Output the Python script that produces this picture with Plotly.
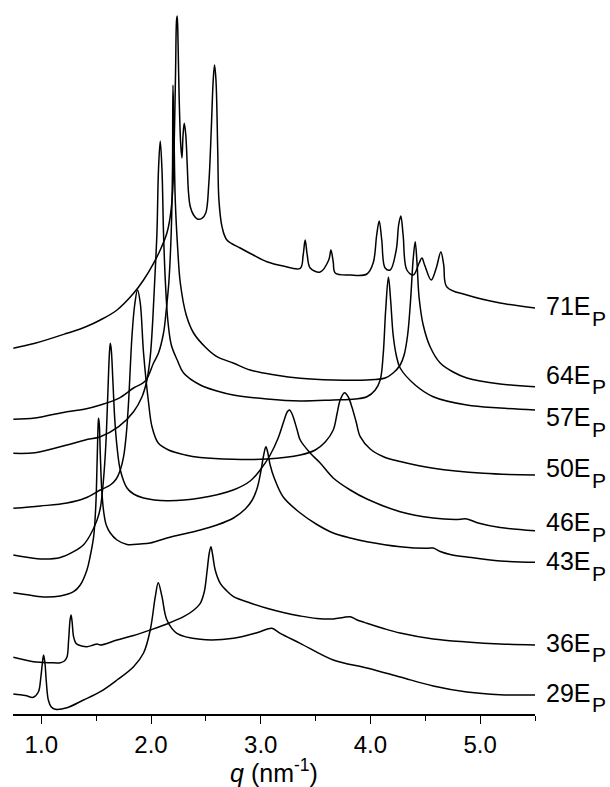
import plotly.graph_objects as go

# q values (nm^-1) and stacked intensities (arbitrary units, offset curves)
q_29 = [0.745, 0.854, 0.927, 0.973, 0.995, 1.009, 1.021, 1.034, 1.046, 1.064, 1.091, 1.128, 1.234, 1.385,
        1.538, 1.690, 1.841, 1.932, 1.993, 2.039, 2.066, 2.100, 2.145, 2.236, 2.449, 2.752, 2.965, 3.056,
        3.102, 3.178, 3.360, 3.661, 3.968, 4.271, 4.572, 4.879, 5.182, 5.5]
i_29 = [20, 18.5, 16.7, 22, 36, 50, 59, 50, 32, 14, 7, 4.7, 6.3, 14,
        22.3, 34, 47.3, 61, 84, 117.3, 131.3, 117.3, 94, 80.7, 74.7, 75.7, 81.3, 84.7,
        85.7, 80.7, 70.7, 54, 46, 37, 28, 22, 19.3, 19]

q_36 = [0.745, 0.927, 1.082, 1.173, 1.210, 1.234, 1.249, 1.262, 1.271, 1.281, 1.294, 1.314, 1.340, 1.416,
        1.474, 1.508, 1.538, 1.690, 1.841, 1.993, 2.145, 2.297, 2.385, 2.449, 2.485, 2.510, 2.531, 2.546,
        2.562, 2.585, 2.631, 2.692, 2.752, 2.904, 3.056, 3.205, 3.360, 3.512, 3.661, 3.752, 3.816, 3.870,
        3.968, 4.119, 4.271, 4.572, 4.879, 5.182, 5.5]
i_36 = [56.7, 52.3, 51.3, 51.3, 53, 57, 74, 94, 99, 92, 77.3, 71, 69, 67.3,
        69, 70, 69, 74, 78.5, 84, 90, 97.3, 103.5, 110.7, 122, 142, 161, 167.3,
        159, 144, 130.7, 123, 117.3, 111, 105.7, 101.5, 98, 95.5, 95, 96.5, 97.3, 94.5,
        90.7, 85.5, 81, 75, 72, 70, 69]

q_43 = [0.745, 0.854, 1.021, 1.173, 1.294, 1.355, 1.416, 1.446, 1.477, 1.497, 1.509, 1.518, 1.522, 1.529,
        1.538, 1.551, 1.569, 1.592, 1.629, 1.690, 1.781, 1.902, 1.993, 2.145, 2.297, 2.449, 2.601, 2.752,
        2.859, 2.923, 2.968, 3.000, 3.027, 3.047, 3.063, 3.086, 3.123, 3.205, 3.360, 3.512, 3.661, 3.816,
        3.968, 4.271, 4.514, 4.572, 4.636, 4.727, 4.879, 5.182, 5.5]
i_43 = [121.3, 119.5, 117, 118, 122.3, 129, 144, 158, 177.3, 209, 254, 289, 295.7, 289,
        259, 224, 202, 189, 181, 174, 169.5, 170, 171, 176, 180, 184, 189, 196,
        205, 214, 226, 242, 259, 267.3, 262, 249, 236, 217, 201, 189.5, 181, 176,
        172.3, 167.3, 165.7, 166, 162.5, 159.5, 157, 153, 151.7]

q_46 = [0.745, 0.854, 1.021, 1.173, 1.294, 1.383, 1.446, 1.508, 1.538, 1.565, 1.588, 1.606, 1.620, 1.629,
        1.638, 1.652, 1.670, 1.690, 1.720, 1.781, 1.841, 1.932, 2.145, 2.449, 2.749, 2.904, 2.995, 3.086,
        3.159, 3.214, 3.241, 3.262, 3.282, 3.305, 3.332, 3.360, 3.451, 3.542, 3.661, 3.816, 3.968, 4.271,
        4.572, 4.772, 4.879, 4.982, 5.182, 5.5]
i_46 = [159, 157, 155, 156.5, 162.3, 169, 179, 194, 206, 232, 269, 319, 359, 370.7,
        364, 334, 294, 267.3, 244, 226, 220, 216, 213.3, 216, 224, 233, 244, 259,
        276, 294, 302, 304, 301, 294, 284, 274, 261, 251, 236, 224, 215, 202.3,
        196, 194.5, 195, 191, 186.5, 183.3]

q_50 = [0.745, 0.991, 1.234, 1.401, 1.538, 1.629, 1.683, 1.720, 1.750, 1.774, 1.795, 1.826, 1.851, 1.877,
        1.902, 1.932, 1.978, 2.009, 2.066, 2.160, 2.312, 2.449, 2.749, 3.056, 3.360, 3.497, 3.588, 3.661,
        3.697, 3.724, 3.764, 3.798, 3.831, 3.870, 3.907, 3.998, 4.119, 4.271, 4.574, 5.030, 5.5]
i_50 = [205.7, 208, 211, 216, 224, 229, 235, 244, 257.3, 279, 311, 377.3, 409, 424,
        411, 361, 311, 287.3, 271, 264, 259, 256.5, 254.7, 255, 259, 264, 272, 284,
        301, 314, 321.3, 317, 307, 292, 277.3, 265, 257.3, 252.5, 245.7, 240.7, 239]

q_57 = [0.745, 0.943, 1.234, 1.401, 1.538, 1.705, 1.841, 1.918, 1.963, 1.993, 2.016, 2.034, 2.054, 2.068,
        2.084, 2.100, 2.114, 2.130, 2.153, 2.185, 2.239, 2.297, 2.449, 2.601, 2.749, 3.056, 3.360, 3.661,
        3.861, 3.968, 4.044, 4.089, 4.116, 4.139, 4.164, 4.184, 4.207, 4.235, 4.271, 4.408, 4.572, 4.879,
        5.182, 5.5]
i_57 = [260.7, 261.3, 269, 274, 277.3, 287.3, 302.3, 317.3, 334, 357.3, 394, 434, 481, 544,
        573, 544, 481, 434, 394, 369, 354, 341, 329, 323, 319, 315, 313, 314,
        315, 317.3, 324, 334, 359, 404, 437, 414, 379, 359, 346, 329, 317.3, 309,
        306, 304]

q_64 = [0.745, 0.943, 1.234, 1.401, 1.538, 1.705, 1.841, 1.948, 2.023, 2.068, 2.114, 2.139, 2.162, 2.184,
        2.196, 2.200, 2.209, 2.221, 2.244, 2.267, 2.321, 2.388, 2.494, 2.601, 2.749, 2.904, 3.132, 3.360,
        3.661, 3.968, 4.134, 4.207, 4.271, 4.307, 4.339, 4.366, 4.389, 4.408, 4.424, 4.444, 4.481, 4.545,
        4.636, 4.754, 4.879, 5.182, 5.5]
i_64 = [294.7, 296, 302.3, 305, 309, 315.7, 326, 333, 351, 361, 381, 404, 431, 481,
        547, 629, 584, 514, 464, 431, 399, 381, 367, 357.3, 351, 344, 339, 335.7,
        334, 334, 336, 341, 349, 359, 379, 414, 454, 472.3, 452, 416, 389, 367,
        351, 342, 336, 330, 327.3]

q_71 = [0.745, 0.943, 1.234, 1.401, 1.538, 1.690, 1.841, 1.932, 2.023, 2.084, 2.145, 2.175, 2.198, 2.212,
        2.224, 2.233, 2.239, 2.246, 2.257, 2.271, 2.282, 2.292, 2.303, 2.317, 2.330, 2.342, 2.358, 2.388,
        2.422, 2.464, 2.499, 2.526, 2.549, 2.567, 2.579, 2.592, 2.608, 2.619, 2.647, 2.692, 2.813, 2.932,
        3.056, 3.205, 3.360, 3.387, 3.405, 3.424, 3.451, 3.542, 3.620, 3.640, 3.661, 3.679, 3.816, 3.968,
        4.025, 4.057, 4.080, 4.103, 4.134, 4.180, 4.235, 4.257, 4.277, 4.298, 4.332, 4.392, 4.444, 4.469,
        4.494, 4.554, 4.600, 4.642, 4.668, 4.697, 4.879, 5.182, 5.5]
i_71 = [365.7, 370.7, 380.7, 387, 394, 404, 420.7, 434, 450.7, 464, 481, 497.3, 524, 574,
        644, 694, 698, 674, 614, 569, 556, 579, 590.7, 579, 549, 521, 507.3, 499,
        495, 495.7, 501, 529, 584, 634, 649, 634, 564, 514, 487.3, 474, 466, 459,
        452.3, 448, 445.7, 459, 474, 459, 446, 442, 454, 464, 452, 441, 439, 440,
        451, 479, 493, 474, 446, 444, 464, 489, 498, 479, 444, 439, 451, 456,
        449, 434, 446, 462, 449, 427, 419, 411, 406]

series_names = ["29", "36", "43", "46", "50", "57", "64", "71"]
series_q = [q_29, q_36, q_43, q_46, q_50, q_57, q_64, q_71]
series_i = [i_29, i_36, i_43, i_46, i_50, i_57, i_64, i_71]
# label vertical offsets relative to curve end (style)
label_dy = [2.5, 2.5, 1, 8.5, 7, -7.3, 12, 2]

x_ticks = [1.0, 2.0, 3.0, 4.0, 5.0]
x_minor = [1.5, 2.5, 3.5, 4.5, 5.5]

FONT = "Arial, Liberation Sans, sans-serif"

fig = go.Figure()
for name, qq, ii in zip(series_names, series_q, series_i):
    fig.add_trace(go.Scatter(
        x=qq, y=ii, mode="lines", name=name + "E_P",
        line=dict(color="black", width=1.5, shape="spline", smoothing=1.0),
        showlegend=False, hoverinfo="skip"))

for name, ii, dy in zip(series_names, series_i, label_dy):
    fig.add_annotation(
        x=5.5, y=ii[-1] + dy, xref="x", yref="y",
        text=name + "E", showarrow=False,
        xanchor="left", yanchor="middle", xshift=9,
        font=dict(family=FONT, size=25, color="black"))
    fig.add_annotation(
        x=5.5, y=ii[-1] + dy, xref="x", yref="y",
        text="P", showarrow=False,
        xanchor="left", yanchor="middle", xshift=55, yshift=-12,
        font=dict(family=FONT, size=21, color="black"))

fig.update_layout(
    width=610, height=787,
    margin=dict(l=13, r=75, t=0, b=73),
    paper_bgcolor="white", plot_bgcolor="white",
    font=dict(family=FONT, color="black"),
    xaxis=dict(
        range=[0.742, 5.5], showline=True, linecolor="black", linewidth=1.5,
        showgrid=False, zeroline=False, ticks="outside", ticklen=8, tickwidth=1.3,
        tickcolor="black", tickvals=x_ticks, tickformat=".1f",
        tickfont=dict(family=FONT, size=24, color="black"),
        minor=dict(ticks="outside", ticklen=5, tickwidth=1.3, tickcolor="black",
                   tickvals=x_minor),
        title=dict(text="<i>q</i> (nm<sup>-1</sup>)", standoff=2,
                   font=dict(family=FONT, size=25, color="black")),
    ),
    yaxis=dict(range=[0, 714], visible=False),
)

fig.write_html("out.html")
